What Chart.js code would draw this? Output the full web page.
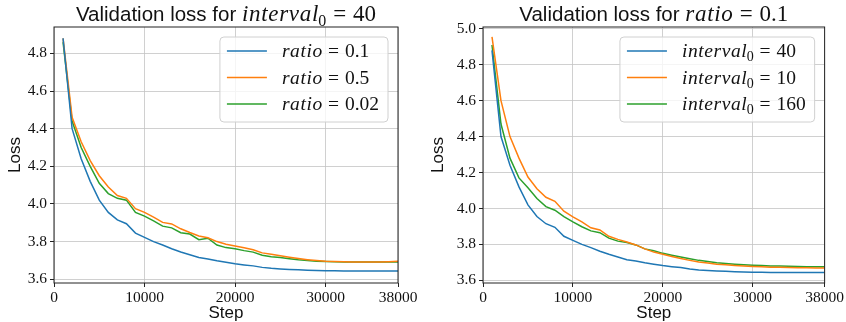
<!DOCTYPE html>
<html>
<head>
<meta charset="utf-8">
<script src="https://cdn.jsdelivr.net/npm/chart.js@4.4.1/dist/chart.umd.min.js"></script>
<style>
  body { margin: 0; background: #fff; }
  #wrap { position: relative; width: 846px; height: 322px; }
  #wrap canvas { position: absolute; top: 0; }
</style>
</head>
<body>
<div id="wrap">
  <canvas id="left" width="423" height="322" style="left:0"></canvas>
  <canvas id="right" width="423" height="322" style="left:423px"></canvas>
</div>
<script>
// training steps where validation loss was measured
const steps = [1000, 2000, 3000, 4000, 5000, 6000, 7000, 8000, 9000, 10000,
  11000, 12000, 13000, 14000, 15000, 16000, 17000, 18000, 19000, 20000,
  21000, 22000, 23000, 24000, 25000, 26000, 27000, 28000, 29000, 30000,
  31000, 32000, 33000, 34000, 35000, 36000, 37000, 38000];

// ratio = 0.1, interval0 = 40 (shared by both panels)
const base = [4.88, 4.40, 4.24, 4.12, 4.02, 3.955, 3.915, 3.895, 3.845, 3.822,
  3.80, 3.782, 3.762, 3.745, 3.73, 3.715, 3.708, 3.698, 3.69, 3.682,
  3.676, 3.671, 3.663, 3.658, 3.655, 3.652, 3.65, 3.648, 3.646, 3.645,
  3.645, 3.644, 3.644, 3.644, 3.644, 3.644, 3.644, 3.644];

// left panel
const ratio05 = [4.88, 4.46, 4.33, 4.23, 4.15, 4.09, 4.045, 4.03, 3.975, 3.955,
  3.93, 3.902, 3.894, 3.868, 3.848, 3.83, 3.82, 3.80, 3.786, 3.777,
  3.767, 3.757, 3.74, 3.733, 3.725, 3.717, 3.71, 3.704, 3.699, 3.695,
  3.694, 3.693, 3.692, 3.692, 3.692, 3.692, 3.693, 3.695];
const ratio002 = [4.86, 4.44, 4.30, 4.20, 4.11, 4.055, 4.03, 4.02, 3.955, 3.935,
  3.91, 3.882, 3.873, 3.847, 3.84, 3.81, 3.818, 3.782, 3.768, 3.762,
  3.752, 3.744, 3.727, 3.72, 3.715, 3.709, 3.703, 3.699, 3.696, 3.694,
  3.693, 3.692, 3.691, 3.691, 3.691, 3.691, 3.691, 3.691];

// right panel
const interval10 = [4.955, 4.60, 4.40, 4.28, 4.175, 4.11, 4.062, 4.04, 3.985, 3.953,
  3.925, 3.892, 3.88, 3.845, 3.828, 3.813, 3.797, 3.775, 3.757, 3.745,
  3.733, 3.721, 3.711, 3.702, 3.696, 3.69, 3.686, 3.682, 3.679, 3.677,
  3.675, 3.673, 3.672, 3.671, 3.67, 3.67, 3.669, 3.669];
const interval160 = [4.91, 4.47, 4.28, 4.17, 4.115, 4.055, 4.01, 3.99, 3.955, 3.925,
  3.898, 3.875, 3.865, 3.835, 3.818, 3.81, 3.797, 3.775, 3.765, 3.75,
  3.74, 3.73, 3.72, 3.711, 3.705, 3.698, 3.693, 3.689, 3.686, 3.684,
  3.682, 3.68, 3.679, 3.678, 3.677, 3.676, 3.676, 3.675];

const leftLabels = ['ratio = 0.1', 'ratio = 0.5', 'ratio = 0.02'];
const rightLabels = ['interval_0 = 40', 'interval_0 = 10', 'interval_0 = 160'];
const xTicks = [0, 10000, 20000, 30000, 38000];
const leftYTicks = [3.6, 3.8, 4.0, 4.2, 4.4, 4.6, 4.8];
const rightYTicks = [3.6, 3.8, 4.0, 4.2, 4.4, 4.6, 4.8, 5.0];

const colors = ['#1f77b4', '#ff7f0e', '#2ca02c'];
const SERIF = '"Liberation Serif", "DejaVu Serif", serif';
const SANS = '"Liberation Sans", "DejaVu Sans", sans-serif';

// split "name_sub = value" into pieces with their own fonts
function mathParts(expr, size) {
  const [lhs, rhs] = expr.split(' = ');
  const [name, sub] = lhs.split('_');
  const parts = [{ text: name, font: `italic ${size}px ${SERIF}`, spacing: size * 0.03 }];
  if (sub) parts.push({ text: sub, font: `${Math.round(size * 0.7)}px ${SERIF}`, dy: size * 0.22 });
  parts.push({ text: '=', font: `${size}px ${SERIF}`, padL: size * 0.3, padR: size * 0.3 });
  parts.push({ text: rhs, font: `${size}px ${SERIF}` });
  return parts;
}

function textW(ctx, p) {
  return ctx.measureText(p.text).width + (p.spacing || 0) * (p.text.length - 1);
}

function partsWidth(ctx, parts) {
  let w = 0;
  for (const p of parts) {
    ctx.font = p.font;
    w += (p.padL || 0) + textW(ctx, p) + (p.padR || 0);
  }
  return w;
}

function drawParts(ctx, parts, x, y) {
  ctx.textBaseline = 'alphabetic';
  ctx.textAlign = 'left';
  for (const p of parts) {
    ctx.font = p.font;
    x += p.padL || 0;
    if (p.spacing) {
      for (const ch of p.text) {
        ctx.fillText(ch, x, y + (p.dy || 0));
        x += ctx.measureText(ch).width + p.spacing;
      }
      x -= p.spacing;
    } else {
      ctx.fillText(p.text, x, y + (p.dy || 0));
      x += ctx.measureText(p.text).width;
    }
    x += p.padR || 0;
  }
}

// frame, title and legend drawn with mixed fonts
const decor = {
  id: 'decor',
  afterDraw(chart, args, opts) {
    const { ctx, chartArea: a } = chart;
    ctx.save();
    ctx.strokeStyle = '#222';
    ctx.lineWidth = 1;
    ctx.strokeRect(a.left, a.top, a.right - a.left, a.bottom - a.top);

    // title
    ctx.fillStyle = '#111';
    const tParts = [{ text: 'Validation loss for ', font: `20.5px ${SANS}` }].concat(mathParts(opts.title, 23));
    const tw = partsWidth(ctx, tParts);
    drawParts(ctx, tParts, (a.left + a.right) / 2 - tw / 2, 21);

    // legend
    const rows = chart.data.datasets.map(ds => mathParts(ds.label, 19.5));
    const textWidth = Math.max(...rows.map(r => partsWidth(ctx, r)));
    const boxW = 8 + 40 + 15 + textWidth + 8;
    const boxH = 85;
    const bx = a.right - 10 - boxW, by = a.top + 10;
    ctx.beginPath();
    ctx.roundRect(bx, by, boxW, boxH, 4);
    ctx.fillStyle = 'rgba(255,255,255,0.8)';
    ctx.fill();
    ctx.strokeStyle = '#d0d0d0';
    ctx.stroke();
    rows.forEach((r, i) => {
      const ry = by + 14 + i * 26.5;
      ctx.strokeStyle = chart.data.datasets[i].borderColor;
      ctx.lineWidth = 1.5;
      ctx.beginPath();
      ctx.moveTo(bx + 7, ry);
      ctx.lineTo(bx + 47, ry);
      ctx.stroke();
      ctx.fillStyle = '#111';
      drawParts(ctx, r, bx + 62, ry + 6);
    });
    ctx.restore();
  }
};

function makeChart(id, series, labels, title, yTicks, yMin, yMax, yWidth, padRight) {
  const datasets = series.map((vals, i) => ({
    label: labels[i],
    data: steps.map((s, j) => ({ x: s, y: vals[j] })),
    borderColor: colors[i],
    borderWidth: 1.5,
    pointRadius: 0,
    tension: 0,
    fill: false
  }));
  return new Chart(document.getElementById(id), {
    type: 'line',
    data: { datasets },
    plugins: [decor],
    options: {
      responsive: false,
      animation: false,
      devicePixelRatio: 1,
      layout: { padding: { left: 0, right: padRight, top: 27, bottom: 0 } },
      plugins: {
        legend: { display: false },
        title: { display: false },
        tooltip: { enabled: false },
        decor: { title }
      },
      scales: {
        x: {
          type: 'linear',
          min: 0,
          max: 38000,
          afterBuildTicks: s => { s.ticks = xTicks.map(v => ({ value: v })); },
          afterFit: s => { s.height = 39; },
          ticks: {
            autoSkip: false, maxRotation: 0, padding: 2,
            color: '#111', font: { family: SERIF, size: 15.5 },
            callback: v => String(v)
          },
          grid: { color: '#c4c4c4', lineWidth: 0.8, tickColor: '#222', tickLength: 4, tickWidth: 1 },
          border: { display: false },
          title: {
            display: true, text: 'Step', color: '#111',
            font: { family: SANS, size: 17, lineHeight: 1.0 }, padding: { top: 0, bottom: 0 }
          }
        },
        y: {
          min: yMin,
          max: yMax,
          afterBuildTicks: s => { s.ticks = yTicks.map(v => ({ value: v })); },
          afterFit: s => { s.width = yWidth; },
          ticks: {
            autoSkip: false, padding: 3,
            color: '#111', font: { family: SERIF, size: 15.5 },
            callback: v => Number(v).toFixed(1)
          },
          grid: { color: '#c4c4c4', lineWidth: 0.8, tickColor: '#222', tickLength: 4, tickWidth: 1 },
          border: { display: false },
          title: {
            display: true, text: 'Loss', color: '#111',
            font: { family: SANS, size: 17, lineHeight: 1.0 }, padding: { top: 7, bottom: 0 }
          }
        }
      }
    }
  });
}

makeChart('left', [base, ratio05, ratio002], leftLabels, 'interval_0 = 40',
  leftYTicks, 3.58, 4.94, 54, 25);
makeChart('right', [base, interval10, interval160], rightLabels, 'ratio = 0.1',
  rightYTicks, 3.585, 5.01, 60, 19);
</script>
</body>
</html>
